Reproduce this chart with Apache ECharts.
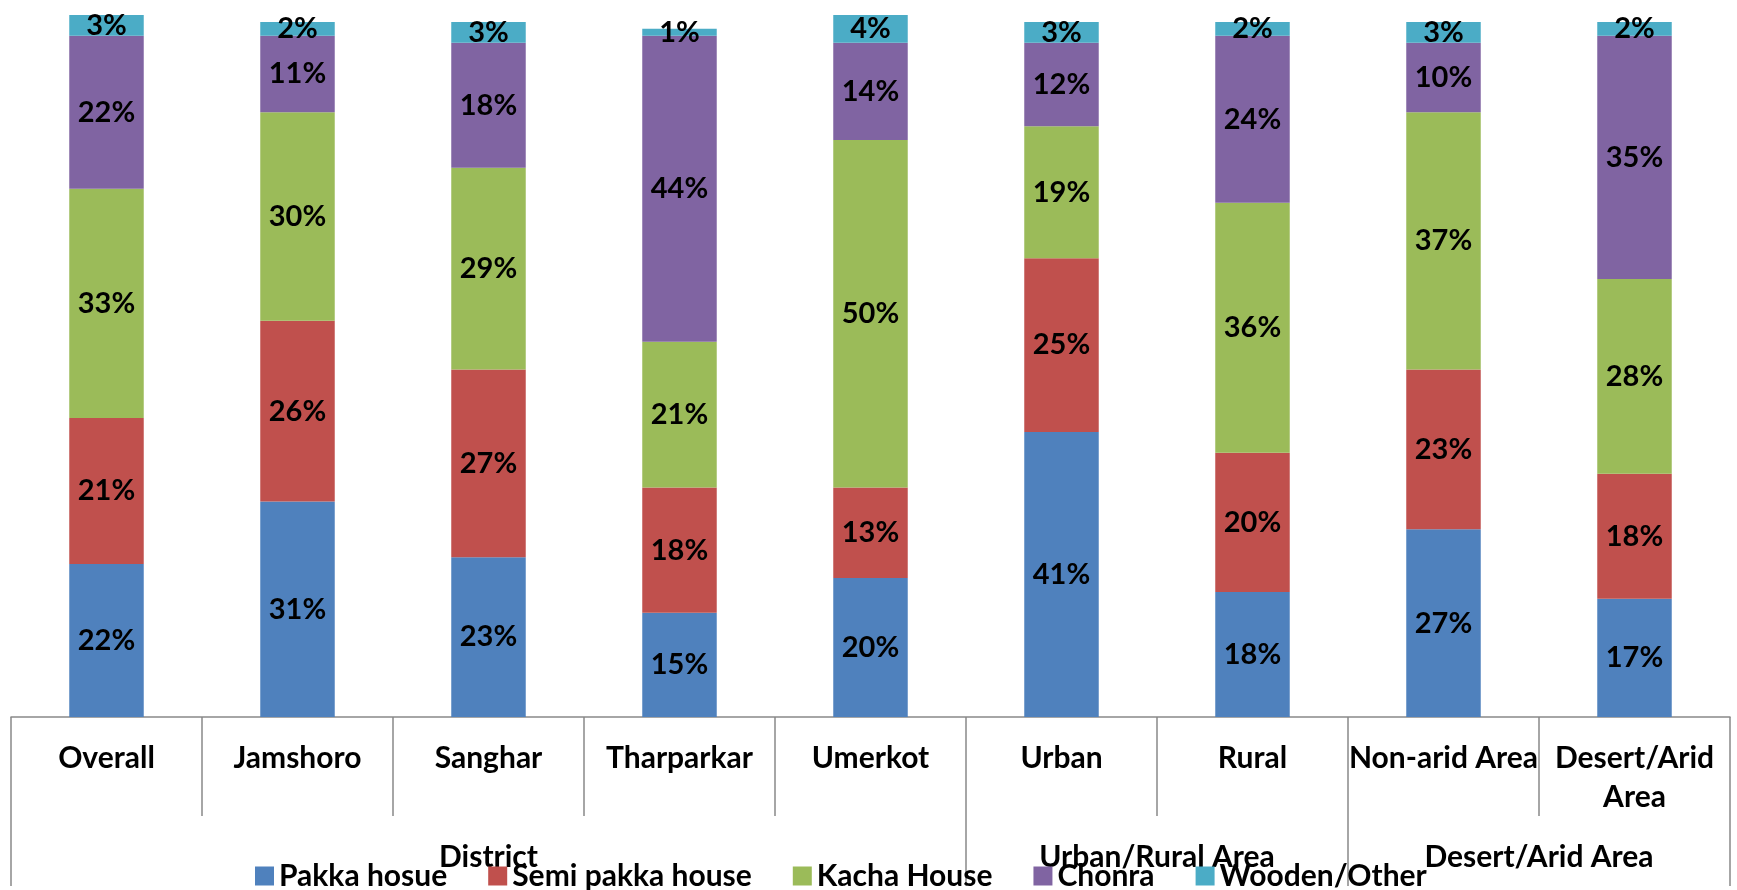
<!DOCTYPE html>
<html>
<head>
<meta charset="utf-8">
<style>
  html, body { margin: 0; padding: 0; background: #fff; }
  #chart { width: 1737px; height: 890px; }
</style>
<script src="https://cdn.jsdelivr.net/npm/echarts@6/dist/echarts.min.js"></script>
</head>
<body>
<div id="chart"></div>
<script>
// Housing type shares by district, urban/rural and desert/arid area
const categories = ['Overall', 'Jamshoro', 'Sanghar', 'Tharparkar', 'Umerkot', 'Urban', 'Rural', 'Non-arid Area', 'Desert/Arid\nArea'];
const groups = ['District', 'Urban/Rural Area', 'Desert/Arid Area'];
const groupSpans = [5, 2, 2];

const seriesNames = ['Pakka hosue', 'Semi pakka house', 'Kacha House', 'Chonra', 'Wooden/Other'];
const pakka  = [22, 31, 23, 15, 20, 41, 18, 27, 17];
const semi   = [21, 26, 27, 18, 13, 25, 20, 23, 18];
const kacha  = [33, 30, 29, 21, 50, 19, 36, 37, 28];
const chonra = [22, 11, 18, 44, 14, 12, 24, 10, 35];
const wooden = [3, 2, 3, 1, 4, 3, 2, 3, 2];

const colors = ['#4F81BD', '#C0504D', '#9BBB59', '#8064A2', '#4BACC6'];
const FONT = 'Lato';

// Group axis: points at every half category, labels at group centres, ticks at group edges
const groupAxisData = new Array(categories.length * 2 + 1).fill('');
const groupTickIdx = [0];
let start = 0;
groups.forEach((g, i) => {
  groupAxisData[start * 2 + groupSpans[i]] = g;
  start += groupSpans[i];
  groupTickIdx.push(start * 2);
});

const chart = echarts.init(document.getElementById('chart'));

const values = [pakka, semi, kacha, chonra, wooden];
const series = values.map((arr, i) => ({
  name: seriesNames[i],
  type: 'bar',
  stack: 'total',
  barWidth: '39%',
  xAxisIndex: 0,
  data: arr,
  itemStyle: { color: colors[i] },
  label: {
    show: true,
    position: 'inside',
    formatter: p => p.value + '%',
    color: '#000',
    fontFamily: FONT,
    fontWeight: 'bold',
    fontSize: 29
  },
  emphasis: { disabled: true },
  animation: false
}));

chart.setOption({
  animation: false,
  grid: { left: 11, right: 7, top: 8, bottom: 173 },
  legend: {
    left: 250,
    top: 856,
    itemWidth: 19,
    itemHeight: 19,
    itemGap: 41,
    icon: 'rect',
    selectedMode: false,
    textStyle: { fontFamily: FONT, fontWeight: 'bold', fontSize: 30, color: '#000', lineHeight: 30 },
    data: seriesNames
  },
  xAxis: [
    {
      type: 'category',
      data: categories,
      position: 'bottom',
      axisLine: { show: true, lineStyle: { color: '#898989', width: 1.5 } },
      axisTick: { show: true, interval: 0, length: 99, lineStyle: { color: '#898989', width: 1.5 } },
      axisLabel: {
        interval: 0,
        margin: 22,
        color: '#000',
        fontFamily: FONT,
        fontWeight: 'bold',
        fontSize: 30,
        lineHeight: 39
      }
    },
    {
      type: 'category',
      data: groupAxisData,
      boundaryGap: false,
      position: 'bottom',
      axisLine: { show: false },
      axisTick: {
        show: true,
        length: 169,
        interval: (idx) => groupTickIdx.indexOf(idx) !== -1,
        lineStyle: { color: '#898989', width: 1.5 }
      },
      axisLabel: {
        interval: (idx, val) => val !== '',
        margin: 121,
        color: '#000',
        fontFamily: FONT,
        fontWeight: 'bold',
        fontSize: 30,
        lineHeight: 39
      }
    }
  ],
  yAxis: {
    type: 'value',
    min: 0,
    max: 102,
    show: false,
    splitLine: { show: false }
  },
  series: series
});
</script>
</body>
</html>
